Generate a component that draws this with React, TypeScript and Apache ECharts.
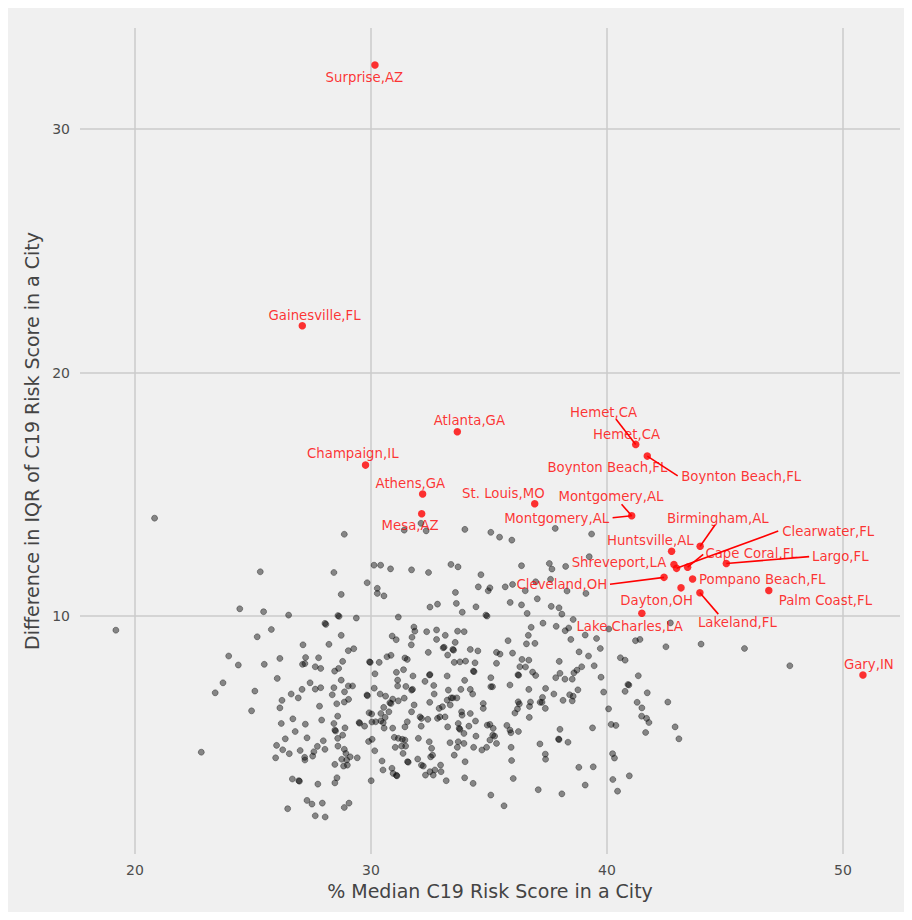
import React, { useEffect, useRef } from "react";
import * as echarts from "echarts";

const xTicks = [20, 30, 40, 50];
const yTicks = [10, 20, 30];

// Other cities: [% median C19 risk score, difference in IQR]
const otherCities: [number, number][] = [
  [20.83,14.02],[28.87,13.36],[25.31,11.82],[28.43,11.79],[28.74,10.89],[24.44,10.3],[25.45,10.18],[26.51,10.04],[28.65,9.99],[28.6,10.02],[29.38,9.92],[28.09,9.66],[28.05,9.7],[25.78,9.45],[25.18,9.15],[28.74,9.21],[27.12,8.82],[28.22,8.84],[29.04,8.58],[29.27,8.66],[23.97,8.36],[26.14,8.26],[27.23,8.3],[27.78,8.29],[28.8,8.14],
  [19.19,9.42],[22.81,4.41],
  [24.38,7.99],[25.48,8.02],[27.1,8.02],[27.2,8.05],[27.64,7.92],[27.87,7.85],[28.46,7.74],[28.63,7.85],[23.73,7.26],[23.4,6.85],[25.08,6.92],[26.03,7.44],[27.42,7.26],[27.64,7.0],[27.87,7.06],[28.74,7.37],[29.04,7.13],[29.22,7.13],[28.43,7.06],[27.08,6.99],[26.62,6.8],[26.92,6.64],[26.23,6.54],[28.36,6.77],[28.88,6.89],[29.05,6.58],[28.87,6.47],[28.55,6.4],[27.82,6.3],[26.14,6.23],[24.94,6.11],[28.59,5.89],[26.69,5.78],[27.91,5.73],[26.2,5.59],[27.22,5.56],[28.43,5.59],[28.47,5.32],[28.5,5.28],[28.9,5.41],[29.5,5.63],[29.52,5.6],[26.79,5.26],[27.29,5.0],[26.37,4.96],[28.59,4.98],[28.8,5.11],[27.98,4.88],[26.0,4.69],[26.26,4.51],[26.54,4.35],[27.0,4.48],[27.73,4.65],[28.05,4.53],[27.58,4.43],[27.53,4.25],[27.19,4.2],[27.2,4.09],[28.6,4.66],[28.87,4.53],[28.94,4.36],[29.12,4.22],[29.42,4.18],[28.97,4.09],[28.76,4.12],[25.96,4.18],[28.47,3.91],[28.84,3.84],[29.0,3.88],[26.67,3.31],[26.94,3.24],[26.97,3.22],[27.75,3.1],[28.47,3.15],[28.56,3.36],[26.47,2.09],[27.29,2.43],[27.5,2.28],[27.94,2.32],[27.64,1.8],[28.06,1.75],[28.87,2.14],[29.07,2.32],
  [32.12,13.81],[31.41,13.53],[32.34,13.5],[33.98,13.56],[35.08,13.44],[35.45,13.24],[35.97,13.12],[37.81,13.6],[39.35,13.37],[30.13,12.09],[30.41,12.09],[30.83,11.94],[31.72,11.9],[32.44,11.79],[33.39,12.12],[33.69,12.02],[36.38,12.07],[37.56,12.16],[37.67,11.93],[38.25,12.04],[39.25,12.44],[34.66,11.7],[29.84,11.37],[30.27,11.14],[30.27,10.93],[30.55,10.83],[33.58,10.97],[34.55,11.2],[34.97,11.04],[35.04,11.16],[35.69,11.2],[36.0,11.3],[36.54,11.04],[36.98,11.41],[37.61,11.51],[38.31,11.03],[39.11,10.93],[37.05,10.71],[35.9,10.56],[36.38,10.46],[33.62,10.52],[32.82,10.49],[32.5,10.37],[33.87,10.16],[34.45,10.38],[34.87,10.04],[34.92,10.0],[36.62,10.11],[37.64,10.4],[37.97,10.34],[38.09,10.08],[38.57,9.86],[31.16,9.96],[37.29,9.71],[36.79,9.54],[37.85,9.58],[38.23,9.4],[38.38,9.51],[39.08,9.22],[31.82,9.55],[31.86,9.38],[30.9,9.18],[31.07,9.03],[31.74,9.13],[31.71,8.82],[32.36,9.36],[32.78,9.43],[32.78,9.04],[33.15,9.21],[33.67,9.38],[33.95,9.36],[33.57,8.92],[33.06,8.7],[33.1,8.72],[33.47,8.63],[33.5,8.6],[33.25,8.4],[32.43,8.51],[34.21,8.63],[34.53,8.57],[35.81,8.99],[36.67,9.21],[36.59,8.86],[36.95,8.88],[36.0,8.48],[35.32,8.51],[35.47,8.44],[38.47,9.04],[38.82,8.53],[39.22,8.36],[30.68,8.33],[30.85,8.39],[31.44,8.28],[31.54,8.22],[29.94,8.12],[29.97,8.1],[30.35,8.1],[36.4,8.22],[36.69,8.19],[37.98,8.14],[33.77,8.12],[34.01,8.15],[34.41,8.08],[35.32,8.06],[33.53,8.1],
  [30.17,7.63],[30.14,7.04],[29.83,6.76],[29.85,6.73],[29.73,5.48],[29.92,6.03],[30.03,5.98],[30.04,5.65],[29.9,4.85],[30.05,4.94],[30.16,4.47],[30.01,3.24],[31.08,7.69],[31.38,7.8],[31.78,7.54],[32.48,7.58],[32.5,7.6],[33.23,7.54],[34.34,7.74],[34.37,7.72],[35.08,7.47],[36.23,7.59],[36.26,7.57],[36.31,7.92],[36.55,7.91],[36.85,7.7],[36.98,7.56],[38.01,7.65],[37.83,7.47],[38.22,7.41],[38.53,7.41],[38.6,7.67],[38.73,7.78],[38.93,7.92],[31.13,7.37],[31.13,7.13],[31.48,7.11],[31.72,6.96],[31.76,6.99],[32.29,7.32],[32.66,7.15],[33.28,6.96],[32.68,6.8],[33.81,6.99],[34.21,6.99],[34.31,6.8],[33.97,7.36],[35.08,7.1],[35.15,7.1],[35.89,7.17],[36.69,6.99],[37.4,7.03],[37.75,6.8],[38.14,6.54],[38.42,6.77],[38.57,6.71],[38.53,6.52],[38.77,6.97],[37.27,6.66],[37.25,6.46],[37.39,6.21],[37.17,6.46],[36.76,6.47],[36.72,6.29],[36.71,5.84],[36.24,6.48],[36.29,6.39],[36.21,6.19],[36.1,6.02],[34.76,6.41],[34.76,6.21],[30.39,6.8],[30.62,6.71],[30.92,6.59],[30.85,6.41],[30.8,6.44],[31.16,6.52],[31.41,6.63],[30.54,6.25],[30.76,6.07],[30.42,6.0],[30.2,5.66],[30.42,5.7],[30.52,5.62],[30.6,5.84],[30.56,5.4],[30.92,5.4],[31.44,5.45],[31.54,5.66],[31.72,6.07],[31.83,6.35],[32.08,5.86],[32.14,5.8],[32.41,5.76],[32.49,6.46],[32.13,5.48],[32.82,5.8],[32.92,5.86],[32.89,6.21],[33.03,6.28],[33.23,6.55],[33.4,6.64],[33.47,6.64],[33.64,6.64],[33.36,6.35],[33.14,5.86],[33.84,6.07],[33.86,5.93],[34.21,6.0],[34.43,5.69],[33.7,5.59],[33.74,5.39],[33.77,5.35],[33.94,5.18],[34.15,5.48],[33.25,5.45],[34.45,5.07],[33.35,4.8],[33.7,4.84],[33.66,4.61],[33.94,4.77],[33.53,4.29],[33.99,4.02],[33.97,3.36],[34.33,3.13],[34.35,4.61],[34.7,4.5],[34.9,4.61],[35.04,4.91],[34.93,5.52],[35.04,5.55],[35.18,5.39],[35.16,5.11],[35.24,5.07],[35.32,4.77],[35.76,5.51],[35.89,5.32],[35.93,5.21],[36.25,5.26],[35.94,4.61],[35.96,4.07],[36.03,3.33],[35.08,2.65],[35.64,2.21],[37.09,2.87],[38.09,2.7],[37.16,4.75],[37.39,4.33],[37.4,4.12],[38.01,5.35],[37.95,4.95],[37.97,4.93],[38.35,4.82],[38.81,3.79],[39.08,3.06],[32.01,4.98],[32.47,4.84],[32.57,4.57],[32.61,4.29],[32.53,4.22],[31.98,4.13],[32.14,3.88],[32.22,3.84],[31.55,4.02],[31.58,4.0],[31.36,4.36],[31.03,4.61],[30.99,5.02],[31.16,4.98],[31.33,4.94],[31.44,4.91],[31.3,4.66],[31.47,4.66],[30.47,4.05],[30.51,3.68],[30.89,3.75],[30.94,3.54],[31.08,3.46],[31.1,3.44],[32.31,3.47],[32.64,3.47],[32.71,3.68],[32.95,3.88],[32.97,3.61],[32.5,3.61],[33.19,3.24],
  [39.56,9.08],[39.72,8.67],[40.08,9.47],[41.21,8.99],[41.4,9.04],[42.5,8.74],[42.69,9.72],[43.99,8.85],[45.83,8.67],[40.57,8.29],[40.77,8.19],[39.46,7.96],[39.75,7.49],[39.86,6.88],[39.39,5.41],[39.42,3.81],[40.07,6.19],[40.18,5.55],[40.38,5.51],[40.24,4.35],[40.32,4.17],[40.25,3.29],[40.45,2.81],[40.95,3.44],[41.33,7.55],[40.89,7.19],[40.93,7.17],[40.77,6.91],[41.71,6.85],[41.28,6.46],[41.48,6.23],[41.47,5.89],[41.68,5.8],[41.78,5.63],[41.64,5.22],[42.58,6.47],[42.89,5.45],[43.05,4.96],[47.75,7.96]
];

// Highlighted cities
const highlightNames = [
  "Surprise,AZ","Gainesville,FL","Atlanta,GA","Champaign,IL","Athens,GA","Mesa,AZ","St. Louis,MO",
  "Hemet,CA","Boynton Beach,FL","Montgomery,AL","Birmingham,AL","Huntsville,AL","Shreveport,LA",
  "Clearwater,FL","Cape Coral,FL","Largo,FL","Cleveland,OH","Pompano Beach,FL","Dayton,OH",
  "Lakeland,FL","Palm Coast,FL","Lake Charles,LA","Gary,IN"
];
const highlightX = [30.17,27.09,33.66,29.77,32.19,32.15,36.94,41.22,41.71,41.05,43.95,42.74,42.84,42.95,43.42,45.06,42.42,43.63,43.14,43.94,46.86,41.48,50.85];
const highlightY = [32.63,21.92,17.57,16.2,15.01,14.2,14.61,17.05,16.57,14.12,12.87,12.66,12.12,11.96,12.01,12.16,11.59,11.52,11.16,10.96,11.05,10.12,7.58];

// Annotation text anchors (text centres, in data units)
const labelNames = [
  "Surprise,AZ","Gainesville,FL","Atlanta,GA","Champaign,IL","Athens,GA","Mesa,AZ","St. Louis,MO",
  "Hemet,CA","Hemet,CA","Boynton Beach,FL","Boynton Beach,FL","Montgomery,AL","Montgomery,AL",
  "Birmingham,AL","Huntsville,AL","Shreveport,LA","Cape Coral,FL","Clearwater,FL","Largo,FL",
  "Cleveland,OH","Pompano Beach,FL","Dayton,OH","Lake Charles,LA","Lakeland,FL","Palm Coast,FL","Gary,IN"
];
const labelX = [29.72,27.61,34.17,29.23,31.67,31.66,35.61,39.86,40.83,40.02,45.69,40.17,37.87,44.7,41.84,40.51,46.13,49.38,49.89,38.09,46.58,42.11,40.96,45.53,49.26,51.1];
const labelY = [32.11,22.36,18.05,16.68,15.45,13.7,15.04,18.38,17.46,16.09,15.72,14.9,14.0,14.01,13.09,12.19,12.57,13.46,12.44,11.3,11.51,10.63,9.56,9.74,10.63,8.03];

// Leader lines: start near the label, end at the named city's point
const leaderStartX = [40.38,43.0,40.62,40.24,44.58,47.26,44.08,48.57,40.13,44.72];
const leaderStartY = [18.09,15.76,14.59,14.04,13.74,13.49,12.53,12.44,11.31,10.08];
const leaderCity = ["Hemet,CA","Boynton Beach,FL","Montgomery,AL","Montgomery,AL","Birmingham,AL","Clearwater,FL","Cape Coral,FL","Largo,FL","Cleveland,OH","Lakeland,FL"];

const FONT = "DejaVu Sans";

export default function App() {
  const ref = useRef<HTMLDivElement>(null);
  useEffect(() => {
    if (!ref.current) return;
    const chart = echarts.init(ref.current, null, { renderer: "svg" });
    const leaderData = leaderCity.map((c, i) => {
      const k = highlightNames.indexOf(c);
      return { coords: [[leaderStartX[i], leaderStartY[i]], [highlightX[k], highlightY[k]]] };
    });
    chart.setOption({
      animation: false,
      backgroundColor: "#f0f0f0",
      textStyle: { fontFamily: FONT },
      grid: { left: 72, right: 12, top: 20, bottom: 58, containLabel: false },
      xAxis: {
        type: "value",
        min: 17.67,
        max: 52.42,
        name: "% Median C19 Risk Score in a City",
        nameLocation: "middle",
        nameGap: 27,
        nameTextStyle: { fontSize: 19, color: "#444", fontFamily: FONT },
        axisLine: { show: false },
        axisTick: { show: false, customValues: xTicks },
        axisLabel: { customValues: xTicks, fontSize: 14, color: "#4d4d4d", margin: 9, fontFamily: FONT },
        splitLine: { show: true, lineStyle: { color: "#cbcbcb", width: 1.5 } },
      },
      yAxis: {
        type: "value",
        min: 0.23,
        max: 34.15,
        name: "Difference in IQR of C19 Risk Score in a City",
        nameLocation: "middle",
        nameGap: 35,
        nameTextStyle: { fontSize: 19, color: "#444", fontFamily: FONT },
        axisLine: { show: false },
        axisTick: { show: false, customValues: yTicks },
        axisLabel: { customValues: yTicks, fontSize: 14, color: "#4d4d4d", margin: 10, fontFamily: FONT },
        splitLine: { show: true, lineStyle: { color: "#cbcbcb", width: 1.5 } },
      },
      series: [
        {
          type: "scatter",
          data: otherCities,
          symbolSize: 6,
          itemStyle: { color: "rgba(0,0,0,0.56)", borderColor: "rgba(0,0,0,0.42)", borderWidth: 1 },
          z: 2,
          silent: true,
        },
        {
          type: "scatter",
          data: highlightNames.map((n, i) => ({ name: n, value: [highlightX[i], highlightY[i]] })),
          symbolSize: 7.5,
          itemStyle: { color: "#ff0000" },
          z: 3,
          silent: true,
        },
        {
          type: "lines",
          coordinateSystem: "cartesian2d",
          polyline: false,
          data: leaderData,
          symbol: ["none", "none"],
          lineStyle: { color: "#ff0000", width: 1.6, opacity: 1, curveness: 0 },
          z: 4,
          silent: true,
        },
        {
          type: "scatter",
          data: labelNames.map((n, i) => ({ name: n, value: [labelX[i], labelY[i]] })),
          symbolSize: 1,
          itemStyle: { color: "rgba(0,0,0,0)" },
          label: {
            show: true,
            position: "inside",
            formatter: "{b}",
            color: "#ff0000",
            fontSize: 13.3,
            fontFamily: FONT,
          },
          z: 5,
          silent: true,
        },
      ],
    });
    return () => chart.dispose();
  }, []);
  return <div ref={ref} style={{ width: 904, height: 904, background: "#f0f0f0" }} />;
}
